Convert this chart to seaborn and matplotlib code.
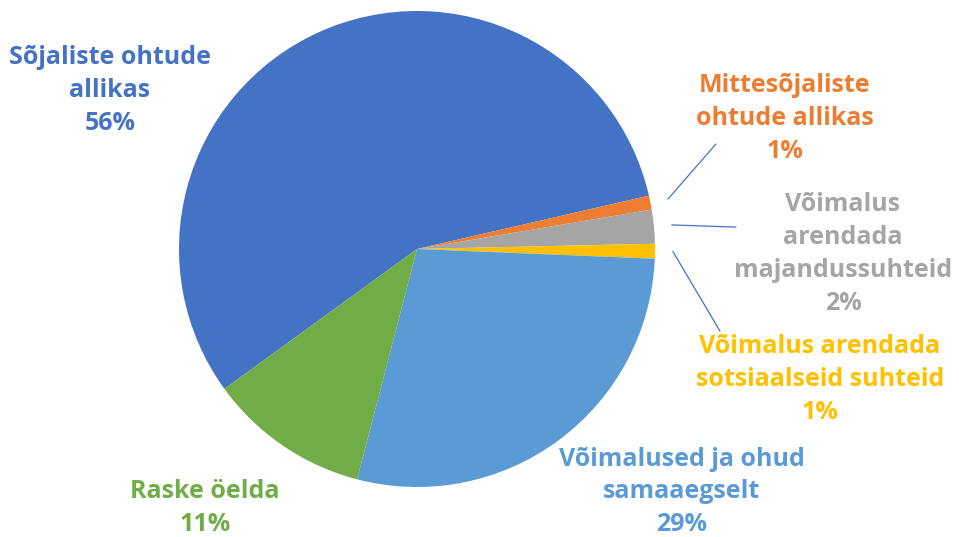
import numpy as np
import matplotlib
matplotlib.use("Agg")
import matplotlib.pyplot as plt
import seaborn as sns

# shares (clockwise from the lower-left)
categories = ["Sõjaliste ohtude\nallikas",
              "Mittesõjaliste\nohtude allikas",
              "Võimalus\narendada\nmajandussuhteid",
              "Võimalus arendada\nsotsiaalseid suhteid",
              "Võimalused ja ohud\nsamaaegselt",
              "Raske öelda"]
shares = [56.4, 0.95, 2.3, 1.0, 28.4, 10.95]
pct_labels = ["56%", "1%", "2%", "1%", "29%", "11%"]
colors = ["#4472C4", "#ED7D31", "#A5A5A5", "#FFC000", "#5B9BD5", "#70AD47"]

sns.set_style("white")
plt.rcParams['font.family'] = ['Open Sans', 'DejaVu Sans']

W, H = 959, 537
cx, cy, r = 417, 249, 238
fig = plt.figure(figsize=(W / 100, H / 100), dpi=100)
ax = fig.add_axes([(cx - r) / W, (H - cy - r) / H, 2 * r / W, 2 * r / H])

pal = sns.color_palette(colors)
wedges, _ = ax.pie(shares, colors=pal, startangle=216, counterclock=False,
                   radius=1, wedgeprops=dict(linewidth=0))
ax.set_xlim(-1, 1)
ax.set_ylim(-1, 1)
ax.set_aspect("equal")
ax.axis("off")

# label centres (data units of the pie axes)
label_pos = [(-1.290, 0.664), (1.546, 0.550), (1.790, -0.021),
             (1.693, -0.550), (1.113, -1.021), (-0.891, -1.088)]
for i, (cat, pct) in enumerate(zip(categories, pct_labels)):
    x, y = label_pos[i]
    ax.text(x, y, cat + "\n" + pct, color=colors[i], fontsize=18,
            fontweight="bold", ha="center", va="center",
            linespacing=1.42, clip_on=False)

# leader lines for the thin slices
leader_end = {1: (1.256, 0.441), 2: (1.340, 0.092), 3: (1.273, -0.345)}
for i, (ex, ey) in leader_end.items():
    w = wedges[i]
    mid = np.deg2rad((w.theta1 + w.theta2) / 2)
    sx, sy = 1.075 * np.cos(mid), 1.075 * np.sin(mid)
    ax.plot([sx, ex], [sy, ey], color="#4472C4", linewidth=0.9, clip_on=False)

fig.savefig("out.png", dpi=100)
